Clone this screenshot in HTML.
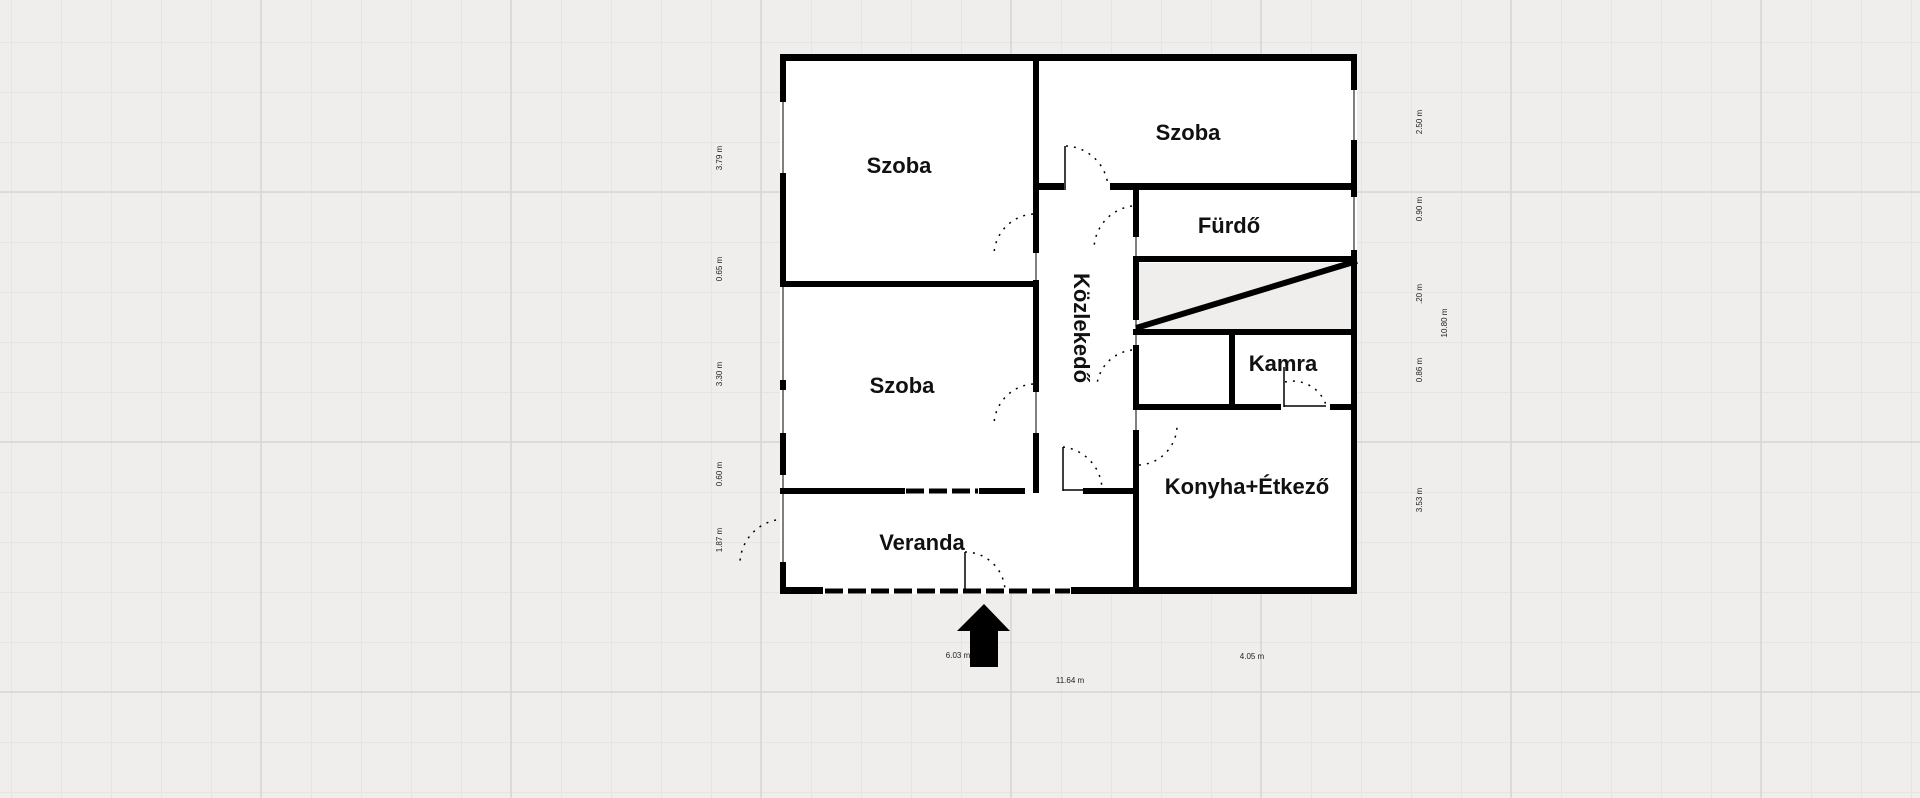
<!DOCTYPE html>
<html><head><meta charset="utf-8"><style>
html,body{margin:0;padding:0;background:#efeeec;}
svg{display:block}
</style></head><body>
<svg width="1920" height="798" xmlns="http://www.w3.org/2000/svg">
<defs>
<pattern id="g" x="11" y="-8" width="50" height="50" patternUnits="userSpaceOnUse">
<path d="M0 0V50M0 0H50" stroke="#e2e2e1" stroke-width="1.5" fill="none"/>
</pattern>
</defs>
<rect width="1920" height="798" fill="#efeeec"/>
<rect width="1920" height="798" fill="url(#g)"/>
<g stroke="#d6d6d5" stroke-width="1.5">
<line x1="261" y1="0" x2="261" y2="798"/><line x1="511" y1="0" x2="511" y2="798"/><line x1="761" y1="0" x2="761" y2="798"/><line x1="1011" y1="0" x2="1011" y2="798"/><line x1="1261" y1="0" x2="1261" y2="798"/><line x1="1511" y1="0" x2="1511" y2="798"/><line x1="1761" y1="0" x2="1761" y2="798"/>
<line x1="0" y1="192" x2="1920" y2="192"/><line x1="0" y1="442" x2="1920" y2="442"/><line x1="0" y1="692" x2="1920" y2="692"/>
</g>
<rect x="780" y="54" width="577" height="540" fill="#fff"/>
<rect x="1139" y="263" width="215" height="66" fill="#efeeec"/>
<g fill="#000">
<rect x="780" y="54" width="577" height="7"/>
<rect x="780" y="587" width="43" height="7"/>
<rect x="1071" y="587" width="286" height="7"/>
<rect x="1351" y="54" width="6" height="36"/>
<rect x="1351" y="140" width="6" height="57"/>
<rect x="1351" y="250" width="6" height="344"/>
<rect x="780" y="54" width="6" height="48"/>
<rect x="780" y="173" width="6" height="110"/>
<rect x="780" y="380" width="6" height="10"/>
<rect x="780" y="433" width="6" height="42"/>
<rect x="780" y="562" width="6" height="32"/>
<rect x="1033" y="54" width="6" height="199"/>
<rect x="1033" y="280" width="6" height="112"/>
<rect x="1033" y="433" width="6" height="60"/>
<rect x="1033" y="183" width="31" height="7"/>
<rect x="1110" y="183" width="247" height="7"/>
<rect x="1133" y="187" width="6" height="50"/>
<rect x="1133" y="260" width="6" height="60"/>
<rect x="1133" y="345" width="6" height="60"/>
<rect x="1133" y="430" width="6" height="164"/>
<rect x="780" y="281" width="256" height="6"/>
<rect x="1133" y="256" width="224" height="6"/>
<rect x="1133" y="329" width="224" height="6"/>
<rect x="1229" y="329" width="6" height="78"/>
<rect x="1133" y="404" width="148" height="6"/>
<rect x="1330" y="404" width="27" height="6"/>
<rect x="780" y="488" width="125" height="6"/>
<rect x="979" y="488" width="46" height="6"/>
<rect x="1083" y="488" width="56" height="6"/>
</g>
<line x1="1136" y1="328" x2="1357" y2="261" stroke="#000" stroke-width="6"/>
<g stroke="#000" stroke-width="5" stroke-dasharray="18,5">
<line x1="906" y1="491" x2="978" y2="491"/>
<line x1="825" y1="591" x2="1070" y2="591"/>
</g>
<g stroke="#000" stroke-width="1">
<line x1="783" y1="102" x2="783" y2="173"/>
<line x1="783" y1="283" x2="783" y2="433"/>
<line x1="783" y1="475" x2="783" y2="562"/>
<line x1="1354" y1="90" x2="1354" y2="140"/>
<line x1="1354" y1="197" x2="1354" y2="250"/>
<line x1="1036" y1="253" x2="1036" y2="280"/>
<line x1="1036" y1="392" x2="1036" y2="433"/>
<line x1="1136" y1="237" x2="1136" y2="260"/>
<line x1="1136" y1="320" x2="1136" y2="345"/>
<line x1="1136" y1="405" x2="1136" y2="430"/>
</g>
<g fill="none" stroke="#000" stroke-width="1.5" stroke-dasharray="2,6">
<path d="M1066 146 A 44 44 0 0 1 1108 186"/>
<path d="M1132 206 A 44 44 0 0 0 1094 250"/>
<path d="M1033 214 A 42 42 0 0 0 994 254"/>
<path d="M1033 384 A 42 42 0 0 0 994 424"/>
<path d="M1132 350 A 40 40 0 0 0 1097 384"/>
<path d="M1139 465 A 40 40 0 0 0 1177 423"/>
<path d="M1063 447 A 44 44 0 0 1 1102 488"/>
<path d="M965 552 A 40 40 0 0 1 1005 590"/>
<path d="M1285 382 A 35 35 0 0 1 1326 405"/>
<path d="M776 520 A 45 45 0 0 0 740 566"/>
</g>
<g stroke="#000" stroke-width="1.5">
<line x1="1065" y1="146" x2="1065" y2="190"/>
<line x1="1063" y1="447" x2="1063" y2="491"/>
<line x1="965" y1="552" x2="965" y2="591"/>
<line x1="1284" y1="367" x2="1284" y2="407"/>
<line x1="1063" y1="490" x2="1100" y2="490"/>
<line x1="1284" y1="406" x2="1326" y2="406"/>
</g>
<polygon points="984,604 1010,631 998,631 998,667 970,667 970,631 957,631" fill="#000"/>
<g font-family="Liberation Sans, sans-serif" font-weight="bold" font-size="22" fill="#111" text-anchor="middle">
<text x="899" y="173">Szoba</text>
<text x="1188" y="140">Szoba</text>
<text x="1229" y="233">Fürdő</text>
<text x="902" y="393">Szoba</text>
<text x="1283" y="371">Kamra</text>
<text x="1247" y="494">Konyha+Étkező</text>
<text x="922" y="550">Veranda</text>
<text transform="translate(1074,328) rotate(90)">Közlekedő</text>
</g>
<g font-family="Liberation Sans, sans-serif" font-size="8" fill="#222" text-anchor="middle">
<text transform="translate(722,158) rotate(-90)">3.79 m</text>
<text transform="translate(722,269) rotate(-90)">0.65 m</text>
<text transform="translate(722,374) rotate(-90)">3.30 m</text>
<text transform="translate(722,474) rotate(-90)">0.60 m</text>
<text transform="translate(722,540) rotate(-90)">1.87 m</text>
<text transform="translate(1422,122) rotate(-90)">2.50 m</text>
<text transform="translate(1422,209) rotate(-90)">0.90 m</text>
<text transform="translate(1422,294) rotate(-90)">.20 m</text>
<text transform="translate(1422,370) rotate(-90)">0.86 m</text>
<text transform="translate(1422,500) rotate(-90)">3.53 m</text>
<text transform="translate(1447,323) rotate(-90)">10.80 m</text>
<text x="958" y="658">6.03 m</text>
<text x="1252" y="659">4.05 m</text>
<text x="1070" y="683">11.64 m</text>
</g>
</svg>
</body></html>
